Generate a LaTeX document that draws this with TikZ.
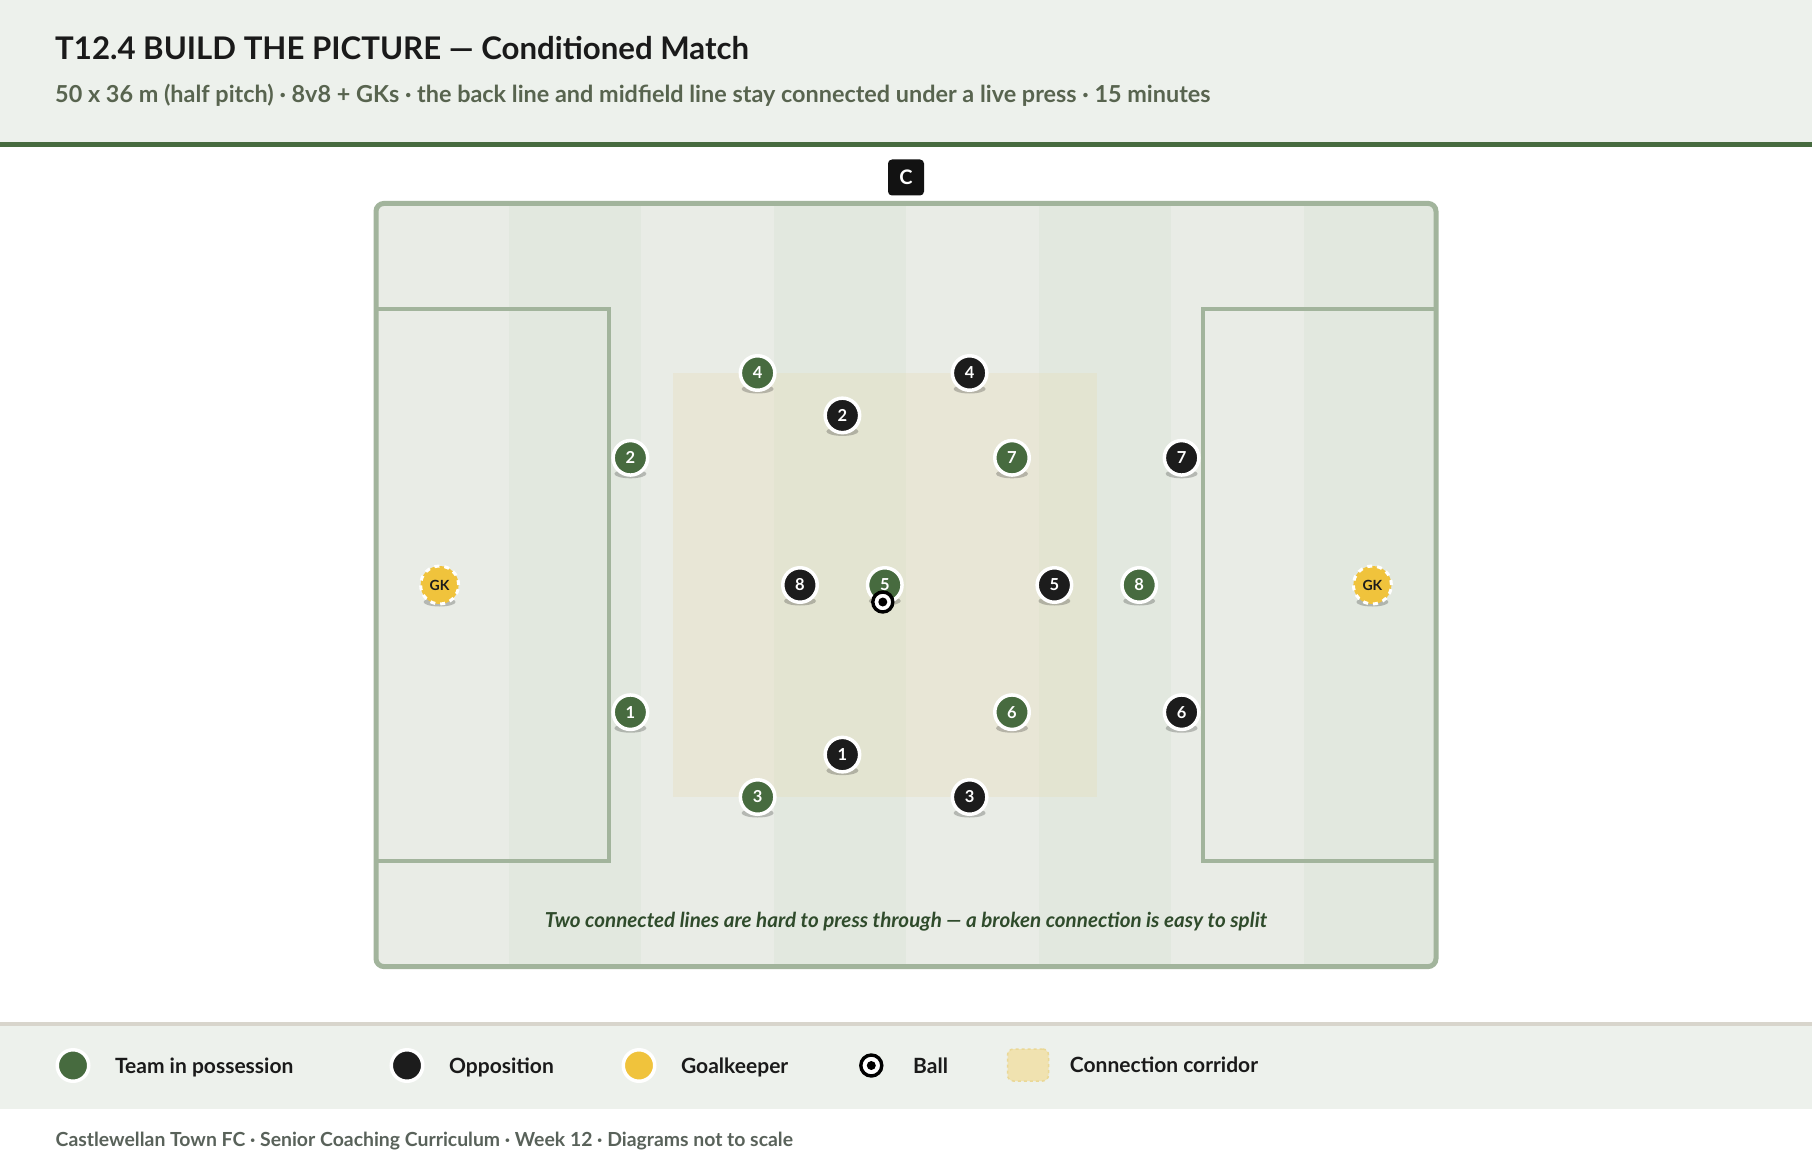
\documentclass[tikz,border=0pt]{standalone}
\usepackage{fontspec}
\setmainfont{Lato}
\usetikzlibrary{positioning}
\definecolor{headbg}{HTML}{EDF1EC}
\definecolor{inkblack}{HTML}{1A1A1A}
\definecolor{teamgreen}{HTML}{476B3F}
\definecolor{oppblack}{HTML}{1C1C1C}
\definecolor{gkyellow}{HTML}{F0C33C}
\definecolor{stripelight}{HTML}{E9ECE6}
\definecolor{stripedark}{HTML}{E2E8DF}
\definecolor{pitchline}{HTML}{A2B49C}
\definecolor{corridor}{HTML}{E6DBB3}
\definecolor{swatch}{HTML}{F0E2B0}
\definecolor{swatchline}{HTML}{EAD896}
\definecolor{subgrey}{HTML}{58644F}
\definecolor{footgrey}{HTML}{59625A}
\definecolor{notegreen}{HTML}{2F4B2B}
\definecolor{rulegrey}{HTML}{D8D5CC}

\begin{document}
\begin{tikzpicture}[x = 1pt, y = -1pt,
    token/.style = {circle, minimum size = 34.5pt, inner sep = 0pt,
      draw = white, line width = 3.5pt, text = white,
      font = \fontsize{16.5}{16.5}\selectfont\bfseries},
    green token/.style = {token, fill = teamgreen},
    black token/.style = {token, fill = oppblack},
    keeper/.style = {circle, minimum size = 38pt, inner sep = 0pt,
      fill = gkyellow, draw = white, line width = 3pt,
      dash pattern = on 5pt off 5pt, text = oppblack,
      font = \fontsize{14}{14}\selectfont\bfseries},
    ball/.style = {circle, minimum size = 20pt, inner sep = 0pt,
      fill = white, draw = black, line width = 3.4pt,
      path picture = {\fill [black] (path picture bounding box.center) circle (4.5pt);}},
    legdot/.style = {circle, minimum size = 31.5pt, inner sep = 0pt,
      draw = white, line width = 3.5pt},
    leglabel/.style = {anchor = base west, yshift = -7.8pt, inner sep = 0pt,
      text = inkblack, font = \fontsize{21}{21}\selectfont\bfseries}]
    \useasboundingbox [fill = white] (0,0) rectangle (1812,1166);
    \fill [headbg] (0,0) rectangle (1812,142);
    \fill [teamgreen] (0,142) rectangle (1812,147);
    \node [anchor = base west, inner sep = 0pt, text = inkblack,
    font = \fontsize{31.2}{31.2}\selectfont\bfseries]
    (title) at (55,60) {T12.4 BUILD THE PICTURE — Conditioned Match};
    \node [anchor = base west, inner sep = 0pt, text = subgrey,
    font = \fontsize{23.4}{23.4}\selectfont\bfseries]
    (subtitle) at (55,103) {50 x 36 m (half pitch) · 8v8 + GKs · the back line and midfield line stay connected under a live press · 15 minutes};
    \node [fill = black!93, rounded corners = 4pt, minimum size = 36pt,
    inner sep = 0pt, text = white, font = \fontsize{20}{20}\selectfont\bfseries]
    (coach) at (906,177.5) {C};
    \begin{scope}[shift = {(376pt,-203.4pt)}, x = 21.2pt, y = -21.2pt]
      \begin{scope}
        \clip [rounded corners = 8pt] (0,0) rectangle (50,36);
        \foreach \i in {0,2,4,6} {
          \fill [stripelight] ({\i*6.25},0) rectangle ++(6.25,36);
        }
        \foreach \i in {1,3,5,7} {
          \fill [stripedark] ({\i*6.25},0) rectangle ++(6.25,36);
        }
      \end{scope}
      \fill [corridor, opacity = .3] (14,8) rectangle (34,28);
      \draw [pitchline, line width = 4pt] (0,5) rectangle (11,31);
      \draw [pitchline, line width = 4pt] (50,5) rectangle (39,31);
      \draw [pitchline, line width = 5pt, rounded corners = 8pt] (0,0) rectangle (50,36);
      \node [anchor = base, inner sep = 0pt, text = notegreen,
      font = \fontsize{20.6}{20.6}\selectfont\bfseries\itshape]
      (note) at (25,34.17) {Two connected lines are hard to press through — a broken connection is easy to split};
      \foreach \px/\py/\num in {18/8/4, 12/12/2, 24/18/5, 30/12/7,
        36/18/8, 12/24/1, 30/24/6, 18/28/3} {
        \fill [black, opacity = .22] ([yshift = -16pt] \px,\py) ellipse [x radius = 16pt, y radius = 4.5pt];
        \node [green token] (g\num) at (\px,\py) {\num};
      }
      \foreach \px/\py/\num in {28/8/4, 22/10/2, 38/12/7, 20/18/8,
        32/18/5, 38/24/6, 22/26/1, 28/28/3} {
        \fill [black, opacity = .22] ([yshift = -16pt] \px,\py) ellipse [x radius = 16pt, y radius = 4.5pt];
        \node [black token] (o\num) at (\px,\py) {\num};
      }
      \foreach \px/\side in {3/l, 47/r} {
        \fill [black, opacity = .22] ([yshift = -17pt] \px,18) ellipse [x radius = 16pt, y radius = 4.5pt];
        \node [keeper] (gk\side) at (\px,18) {GK};
      }
      \node [ball] (ball) at ([shift = {(-2pt,-17pt)}] g5.center) {};
    \end{scope}
    \fill [rulegrey] (0,1021.5) rectangle (1812,1025.5);
    \fill [headbg] (0,1025.5) rectangle (1812,1109);
    \node [legdot, fill = teamgreen] (legteam) at (73,1065.5) {};
    \node [right = 24.4pt of legteam, leglabel] (legteamtext) {Team in possession};
    \node [legdot, fill = oppblack] (legopp) at (407,1065.5) {};
    \node [right = 24.4pt of legopp, leglabel] (legopptext) {Opposition};
    \node [legdot, fill = gkyellow] (leggk) at (639,1065.5) {};
    \node [right = 24.4pt of leggk, leglabel] (leggktext) {Goalkeeper};
    \node [ball, minimum size = 21pt] (legball) at (871.3,1065.5) {};
    \node [right = 29.5pt of legball, leglabel] (legballtext) {Ball};
    \node [fill = swatch, draw = swatchline, dashed, line width = 1.5pt,
    rounded corners = 6pt, minimum width = 41pt, minimum height = 32pt]
    (legcorridor) at (1028,1065) {};
    \node [right = 20.5pt of legcorridor, leglabel] (legcorridortext) {Connection corridor};
    \node [anchor = base west, inner sep = 0pt, text = footgrey,
    font = \fontsize{19.4}{19.4}\selectfont\bfseries]
    (footer) at (55.5,1146.5) {Castlewellan Town FC · Senior Coaching Curriculum · Week 12 · Diagrams not to scale};
  \end{tikzpicture}
\end{document}
